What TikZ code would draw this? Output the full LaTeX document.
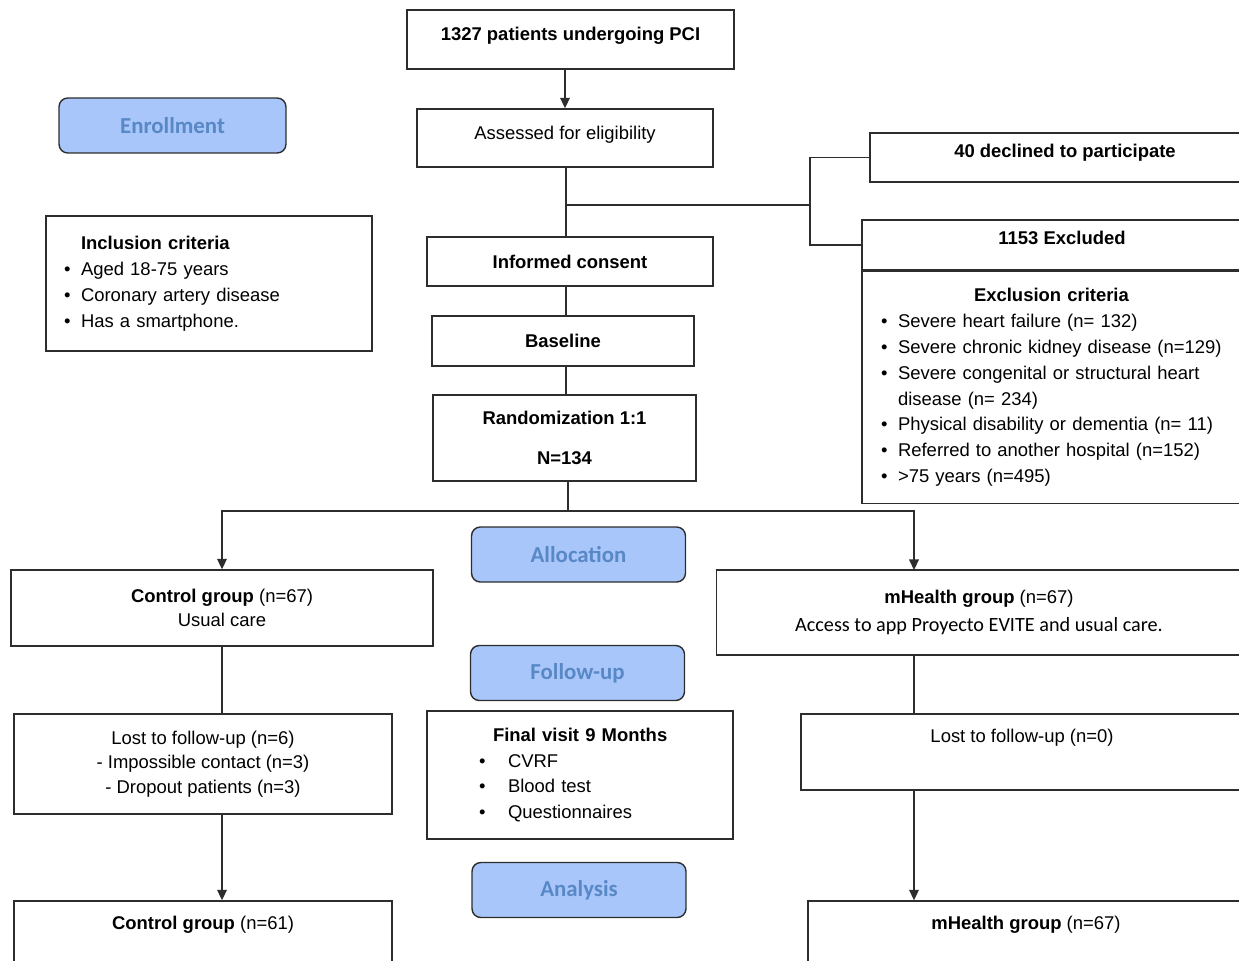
\documentclass[tikz,border=0pt]{standalone}
\usepackage{fontspec}
\setmainfont{Liberation Sans}
\newfontfamily\calibfont{Carlito}
\usetikzlibrary{arrows.meta,positioning}
\definecolor{phaseblue}{RGB}{168,198,250}
\definecolor{phasetext}{RGB}{88,136,198}
\definecolor{boxgray}{RGB}{45,45,45}
\newcommand{\itm}[2][0.34cm]{\par\hangindent=#1\hangafter=1\noindent\makebox[#1][l]{\textbullet}#2}

\begin{document}
\begin{tikzpicture}[x=0.02cm, y=-0.02cm,
  box/.style={draw=boxgray, line width=0.8pt, fill=white, inner sep=0pt,
    align=center, font=\fontsize{10.5}{14}\selectfont},
  phase/.style={draw=boxgray, line width=0.8pt, fill=phaseblue, rounded corners=5pt,
    text=phasetext, font=\calibfont\fontsize{13}{15}\selectfont\bfseries,
    minimum width=4.28cm, minimum height=1.1cm},
  link/.style={draw=boxgray, line width=0.8pt},
  arr/.style={link, -{Triangle[length=6pt,width=5.5pt]}}]

\path[use as bounding box] (0,0) rectangle (1239,960);

% Phase labels
\node[phase, minimum width=4.54cm] (enroll) at (172.5,125.5) {Enrollment};
\node[phase] (alloc) at (578.5,554.5) {Allocation};
\node[phase] (follow) at (577.5,673) {Follow-up};
\node[phase] (analysis) at (579,890) {Analysis};

% Enrollment column
\node[box, minimum width=6.54cm, minimum height=1.18cm, text depth=6.8pt,
  font=\fontsize{10.5}{14}\selectfont\bfseries]
  (pci) at (570.5,39.5) {1327 patients undergoing PCI};
\node[box, minimum width=5.92cm, minimum height=1.16cm, text depth=5.6pt]
  (assess) at (565,138) {Assessed for eligibility};
\node[box, minimum width=5.72cm, minimum height=0.98cm, font=\fontsize{10.5}{14}\selectfont\bfseries]
  (consent) at (570,261.5) {Informed consent};
\node[box, minimum width=5.24cm, minimum height=1.0cm, font=\fontsize{10.5}{14}\selectfont\bfseries]
  (baseline) at (563,341) {Baseline};
\node[box, minimum width=5.26cm, minimum height=1.72cm, font=\fontsize{10.5}{14}\selectfont\bfseries]
  (rand) at (564.5,438) {Randomization 1:1\\[9pt]N=134};

% Inclusion criteria
\node[box, minimum width=6.52cm, minimum height=2.7cm, inner xsep=0.36cm, text width=5.8cm, align=left,
  font=\fontsize{10.5}{14.7}\selectfont]
  (incl) at (209,283.5)
  {\hspace*{0.34cm}\textbf{Inclusion criteria}
   \itm{Aged 18-75 years}
   \itm{Coronary artery disease}
   \itm{Has a smartphone.}};

% Declined and excluded
\node[box, minimum width=7.8cm, minimum height=0.98cm, text depth=7.8pt,
  font=\fontsize{10.5}{14}\selectfont\bfseries]
  (declined) at (1065,157.5) {40 declined to participate};
\node[box, minimum width=8.0cm, minimum height=1.0cm, text depth=8pt,
  font=\fontsize{10.5}{14}\selectfont\bfseries]
  (excl) at (1062,245) {1153 Excluded};
\node[box, below=0pt of excl, minimum width=8.0cm, minimum height=4.64cm, inner xsep=0.38cm,
  text width=7.24cm, align=left, font=\fontsize{10.5}{14.7}\selectfont]
  (crit)
  {\hspace*{1.86cm}\textbf{Exclusion criteria}
   \itm{Severe heart failure (n= 132)}
   \itm{Severe chronic kidney disease (n=129)}
   \itm{Severe congenital or structural heart\break disease (n= 234)}
   \itm{Physical disability or dementia (n= 11)}
   \itm{Referred to another hospital (n=152)}
   \itm{>75 years (n=495)}};
\draw[boxgray, line width=1.4pt] (excl.south west) -- (excl.south east);

% Allocation
\node[box, minimum width=8.44cm, minimum height=1.52cm] (ctrl) at (222,608)
  {\textbf{Control group} (n=67)\\Usual care};
\node[box, minimum width=10.5cm, minimum height=1.7cm] (mhealth) at (979,612.5)
  {\textbf{mHealth group} (n=67)\\[2pt]{\calibfont\fontsize{11.5}{14}\selectfont Access to app Proyecto EVITE and usual care.}};

% Follow-up
\node[box, minimum width=7.56cm, minimum height=2.0cm] (lostc) at (203,764)
  {Lost to follow-up (n=6)\\- Impossible contact (n=3)\\- Dropout patients (n=3)};
\node[box, minimum width=6.12cm, minimum height=2.56cm, inner xsep=1.04cm, text width=4.04cm,
  align=left, font=\fontsize{10.5}{14.7}\selectfont]
  (final) at (580,775)
  {\hspace*{0.28cm}\textbf{Final visit 9 Months}
   \itm[0.58cm]{CVRF}
   \itm[0.58cm]{Blood test}
   \itm[0.58cm]{Questionnaires}};
\node[box, minimum width=8.84cm, minimum height=1.52cm] (lostm) at (1022,752)
  {Lost to follow-up (n=0)\\\strut};

% Analysis
\node[box, minimum width=7.56cm, minimum height=1.52cm] (ctrlf) at (203,939)
  {\textbf{Control group} (n=61)\\\strut};
\node[box, minimum width=8.72cm, minimum height=1.52cm] (mhf) at (1026,939)
  {\textbf{mHealth group} (n=67)\\\strut};

% Connectors
\coordinate (split) at (566,205);
\coordinate (elbow) at (810,205);
\coordinate (bus) at (568,511);
\coordinate (mtop) at (914,570);

\draw[arr] (assess.north |- pci.south) -- (assess.north);
\draw[link] (split |- assess.south) -- (split |- consent.north);
\draw[link] (split) -- (elbow) |- (declined.west);
\draw[link] (elbow) |- (excl.west);
\draw[link] (split |- consent.south) -- (split |- baseline.north);
\draw[link] (split |- baseline.south) -- (split |- rand.north);
\draw[link] (bus |- rand.south) -- (bus);
\draw[arr] (bus) -| (ctrl.north);
\draw[arr] (bus) -| (mtop);
\draw[link] (ctrl.south) -- (ctrl.south |- lostc.north);
\draw[arr] (ctrl.south |- lostc.south) -- (ctrl.south |- ctrlf.north);
\draw[link] (mtop |- mhealth.south) -- (mtop |- lostm.north);
\draw[arr] (mtop |- lostm.south) -- (mtop |- mhf.north);

\end{tikzpicture}
\end{document}
